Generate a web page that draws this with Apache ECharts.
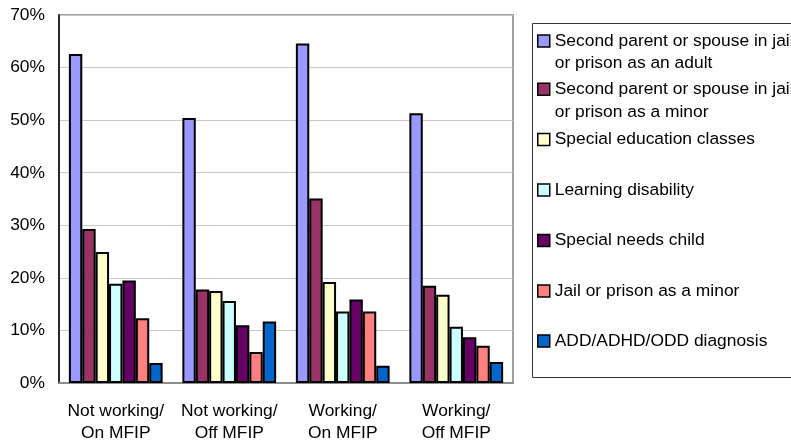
<!DOCTYPE html>
<html>
<head>
<meta charset="utf-8">
<script src="https://cdn.jsdelivr.net/npm/echarts@6/dist/echarts.min.js"></script>
<style>
  html, body { margin: 0; padding: 0; background: #fff; }
  #chart { width: 791px; height: 444px; }
</style>
</head>
<body>
<div id="chart"></div>
<script>
// Groups along the x axis
const categories = ['Not working/\nOn MFIP', 'Not working/\nOff MFIP', 'Working/\nOn MFIP', 'Working/\nOff MFIP'];

// Percent of respondents reporting each barrier, per group
const parentJailAdult   = [62.6, 50.4, 64.6, 51.3];
const parentJailMinor   = [29.3, 17.8, 35.1, 18.5];
const specialEducation  = [24.9, 17.5, 19.2, 16.8];
const learningDisabled  = [18.9, 15.6, 13.6, 10.7];
const specialNeedsChild = [19.5, 11.0, 15.9, 8.7];
const jailAsMinor       = [12.3, 5.9, 13.6, 7.1];
const addAdhdOdd        = [3.8, 11.7, 3.3, 4.0];

const seriesNames = [
  'Second parent or spouse in jail\nor prison as an adult',
  'Second parent or spouse in jail\nor prison as a minor',
  'Special education classes',
  'Learning disability',
  'Special needs child',
  'Jail or prison as a minor',
  'ADD/ADHD/ODD diagnosis'
];
const seriesValues = [parentJailAdult, parentJailMinor, specialEducation, learningDisabled,
                      specialNeedsChild, jailAsMinor, addAdhdOdd];
const seriesColors = ['#9999FF', '#993366', '#FFFFCC', '#CCFFFF', '#660066', '#FF8080', '#0066CC'];

// Y ticks
const yMin = 0, yMax = 70, yStep = 10;

const FONT = '"Liberation Sans", Arial, sans-serif';
const FS = 17.4;
const LH = 22.5;

// Vertical centre of the first text line of each legend entry
const legendLineY = [41, 89.3, 139.5, 190, 240.5, 291, 341];

// One legend block per entry so every entry sits on its own row; two-line
// entries get top padding so the swatch lines up with their first line.
const legends = seriesNames.map((name, i) => {
  const lines = name.split('\n');
  const twoLines = lines.length > 1;
  return {
    data: [name],
    orient: 'vertical',
    left: 537,
    top: twoLines ? legendLineY[i] - 1.5 * LH : legendLineY[i] - 0.5 * LH,
    padding: 0,
    icon: 'rect',
    itemWidth: 12,
    itemHeight: 12,
    itemGap: 0,
    selectedMode: false,
    itemStyle: { borderColor: '#000', borderWidth: 1.5 },
    formatter: () => lines.map(l => '{t|' + l + '}').join('\n'),
    textStyle: {
      fontFamily: FONT,
      fontSize: FS,
      lineHeight: LH,
      color: '#000',
      padding: twoLines ? [LH, 0, 0, 0] : 0,
      rich: {
        t: { fontFamily: FONT, fontSize: FS, lineHeight: LH, color: '#000' }
      }
    }
  };
});

const chart = echarts.init(document.getElementById('chart'), null, { renderer: 'canvas' });

chart.setOption({
  animation: false,
  backgroundColor: '#fff',
  grid: {
    left: 59, right: 278, top: 15, bottom: 59,
    show: true,
    borderColor: '#a0a0a0',
    borderWidth: 2,
    backgroundColor: 'transparent'
  },
  legend: legends,
  graphic: [{
    type: 'rect',
    shape: { x: 532.5, y: 23.5, width: 320, height: 354 },
    style: { fill: 'none', stroke: '#333', lineWidth: 1 },
    z: -1
  }],
  xAxis: {
    type: 'category',
    data: categories,
    axisTick: { show: false },
    axisLine: { lineStyle: { color: '#8c8c8c', width: 2 } },
    axisLabel: {
      margin: 17,
      fontFamily: FONT,
      fontSize: FS,
      lineHeight: 22,
      color: '#000',
      interval: 0
    }
  },
  yAxis: {
    type: 'value',
    min: yMin,
    max: yMax,
    interval: yStep,
    axisLine: { show: true, lineStyle: { color: '#000', width: 1.5 } },
    axisTick: { show: false },
    splitLine: { lineStyle: { color: '#c8c8c8', width: 1 } },
    axisLabel: {
      margin: 14,
      formatter: '{value}%',
      fontFamily: FONT,
      fontSize: FS,
      color: '#000'
    }
  },
  series: seriesNames.map((name, i) => ({
    name: name,
    type: 'bar',
    data: seriesValues[i],
    barGap: '0%',
    barCategoryGap: '17.4%',
    itemStyle: { color: seriesColors[i], borderColor: '#000', borderWidth: 2 }
  }))
});
</script>
</body>
</html>
